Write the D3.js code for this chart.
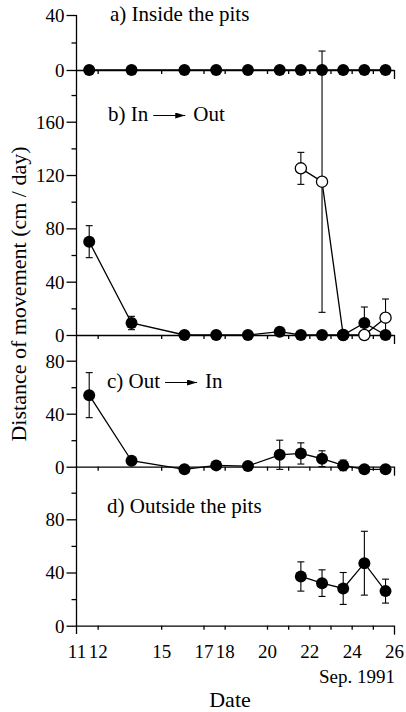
<!DOCTYPE html>
<html>
<head>
<meta charset="utf-8">
<script src="https://cdn.jsdelivr.net/npm/d3@7"></script>
<style>
    body { margin: 0; background: #fff; }
    svg text { font-family: "Liberation Serif", "DejaVu Serif", serif; fill: #000; }
    .axis line, .axis path { stroke: #000; stroke-width: 1.3; }
</style>
</head>
<body>
<div id="chart"></div>
<script>
// Sampling dates (day in Sep. 1991)
const dates = [11.6, 13.6, 16.1, 17.6, 19.1, 20.6, 21.6, 22.6, 23.6, 24.6, 25.6];
const lateDates = [21.6, 22.6, 23.6, 24.6, 25.6];

// a) Inside the pits
const insideMean = [0, 0, 0, 0, 0, 0, 0, 0, 0, 0, 0];

// b) In -> Out (filled symbols)
const inOutMean = [70, 9, 0, 0, 0, 2.5, 0, 0, 0, 9, 0];
const inOutErr = [12, 5, 0, 0, 0, 0, 0, 0, 0, 12, 0];

// b) In -> Out (open symbols)
const inOutOpenMean = [125, 115, 0, 0, 13];
const inOutOpenErr = [12, 98, 0, 0, 14];

// c) Out -> In
const outInMean = [54, 4.5, -2, 1, 0.5, 9, 10, 6, 1, -2, -2];
const outInErr = [17, 0, 0, 0, 0, 11, 8, 6, 4, 0, 0];

// d) Outside the pits
const outsideMean = [37, 32, 28, 47, 26];
const outsideErr = [11, 10, 12, 24, 9];

// Axis ticks
const xTicks = [12, 15, 17, 18, 20, 21, 22, 23, 24, 25, 26];
const xTickLabels = [11, 12, 15, 17, 18, 20, 22, 24, 26];

const width = 406;
const height = 712;

const svg = d3.select('#chart')
    .append('svg')
    .attr('width', width)
    .attr('height', height);

const x = d3.scaleLinear().domain([11, 26]).range([76.5, 394]);

// One y scale per panel, stacked on a shared left axis
const panels = [
    { key: 'a', domain: [0, 40], range: [70, 15], major: [0, 40], minor: [20] },
    { key: 'b', domain: [0, 160], range: [335, 121.7], major: [0, 40, 80, 120, 160], minor: [20, 60, 100, 140, 180] },
    { key: 'c', domain: [0, 80], range: [466.7, 360.7], major: [0, 40, 80], minor: [20, 60] },
    { key: 'd', domain: [0, 80], range: [625.7, 519.3], major: [0, 40, 80], minor: [20, 60, 100] }
];
panels.forEach(p => { p.y = d3.scaleLinear().domain(p.domain).range(p.range); });
const yOf = k => panels.find(p => p.key === k).y;

const axisLayer = svg.append('g');
const errLayer = svg.append('g');
const lineLayer = svg.append('g');
const dotLayer = svg.append('g');

// Left axis: one continuous line
axisLayer.append('line')
    .attr('x1', x(11)).attr('x2', x(11))
    .attr('y1', 15).attr('y2', 634)
    .attr('stroke', '#000').attr('stroke-width', 1.3);

panels.forEach(p => {
    const major = axisLayer.append('g')
        .attr('class', 'axis')
        .attr('transform', `translate(${x(11)},0)`)
        .call(d3.axisLeft(p.y).tickValues(p.major).tickSize(10).tickPadding(2).tickFormat(d3.format('d')));
    major.select('.domain').remove();
    major.selectAll('text').style('font-size', '19px').attr('dy', '0.34em');

    const minor = axisLayer.append('g')
        .attr('class', 'axis')
        .attr('transform', `translate(${x(11)},0)`)
        .call(d3.axisLeft(p.y).tickValues(p.minor).tickSize(5).tickFormat(''));
    minor.select('.domain').remove();

    // zero line with small date ticks
    const zero = axisLayer.append('g')
        .attr('class', 'axis')
        .attr('transform', `translate(0,${p.y(0)})`)
        .call(d3.axisBottom(x).tickValues(xTicks).tickSizeOuter(0).tickFormat(''));
    zero.selectAll('.tick line').attr('y2', d => d === 26 ? 9 : 4);
});

// Date labels under the bottom panel
const bottom = axisLayer.append('g')
    .attr('transform', `translate(0,${yOf('d')(0)})`)
    .call(d3.axisBottom(x).tickValues(xTickLabels).tickSize(0).tickFormat(d3.format('d')));
bottom.select('.domain').remove();
bottom.selectAll('text')
    .style('font-size', '19px')
    .attr('y', 32)
    .attr('dy', 0);

svg.append('text')
    .attr('x', 395)
    .attr('y', 683)
    .attr('text-anchor', 'end')
    .style('font-size', '19px')
    .text('Sep. 1991');

svg.append('text')
    .attr('x', 230)
    .attr('y', 707)
    .attr('text-anchor', 'middle')
    .style('font-size', '22px')
    .text('Date');

svg.append('text')
    .attr('transform', 'translate(26,294) rotate(-90)')
    .attr('text-anchor', 'middle')
    .style('font-size', '22px')
    .text('Distance of movement (cm / day)');

// Arrow head for the panel titles
svg.append('defs').append('marker')
    .attr('id', 'head')
    .attr('viewBox', '0 0 10 6')
    .attr('refX', 10).attr('refY', 3)
    .attr('markerWidth', 10).attr('markerHeight', 6)
    .attr('markerUnits', 'userSpaceOnUse')
    .attr('orient', 'auto')
    .append('path')
    .attr('d', 'M0,0L10,3L0,6Z')
    .attr('fill', '#000');

function panelTitle(parts, px, py) {
    const first = svg.append('text')
        .attr('x', px).attr('y', py)
        .style('font-size', '21px')
        .text(parts[0]);
    if (parts.length < 2) return;
    const x0 = px + first.node().getComputedTextLength() + 5;
    svg.append('line')
        .attr('x1', x0).attr('x2', x0 + 32)
        .attr('y1', py - 5.5).attr('y2', py - 5.5)
        .attr('stroke', '#000').attr('stroke-width', 1.2)
        .attr('marker-end', 'url(#head)');
    svg.append('text')
        .attr('x', x0 + 40).attr('y', py)
        .style('font-size', '21px')
        .text(parts[1]);
}

panelTitle(['a) Inside the pits'], 110, 21);
panelTitle(['b) In', 'Out'], 108, 121);
panelTitle(['c) Out', 'In'], 107, 388);
panelTitle(['d) Outside the pits'], 107, 513);

// Draw one series: error bars, connecting line, symbols
function drawSeries(xs, means, errs, y, filled) {
    const data = xs.map((d, i) => ({ date: d, mean: means[i], err: errs ? errs[i] : 0 }));

    data.filter(d => d.err > 0).forEach(d => {
        const cx = x(d.date);
        const top = y(d.mean + d.err);
        const bot = y(d.mean - d.err);
        const g = errLayer.append('g').attr('stroke', '#000').attr('stroke-width', 1.1);
        g.append('line').attr('x1', cx).attr('x2', cx).attr('y1', top).attr('y2', bot);
        g.append('line').attr('x1', cx - 3.5).attr('x2', cx + 3.5).attr('y1', top).attr('y2', top);
        g.append('line').attr('x1', cx - 3.5).attr('x2', cx + 3.5).attr('y1', bot).attr('y2', bot);
    });

    lineLayer.append('path')
        .datum(data)
        .attr('fill', 'none')
        .attr('stroke', '#000')
        .attr('stroke-width', 1.3)
        .attr('d', d3.line().x(d => x(d.date)).y(d => y(d.mean)));

    dotLayer.selectAll(null)
        .data(data)
        .enter()
        .append('circle')
        .attr('cx', d => x(d.date))
        .attr('cy', d => y(d.mean))
        .attr('r', filled ? 6 : 5.6)
        .attr('fill', filled ? '#000' : '#fff')
        .attr('stroke', '#000')
        .attr('stroke-width', filled ? 0 : 1.3);
}

drawSeries(lateDates, inOutOpenMean, inOutOpenErr, yOf('b'), false);
drawSeries(dates, inOutMean, inOutErr, yOf('b'), true);
drawSeries(dates, insideMean, null, yOf('a'), true);
drawSeries(dates, outInMean, outInErr, yOf('c'), true);
drawSeries(lateDates, outsideMean, outsideErr, yOf('d'), true);
</script>
</body>
</html>
